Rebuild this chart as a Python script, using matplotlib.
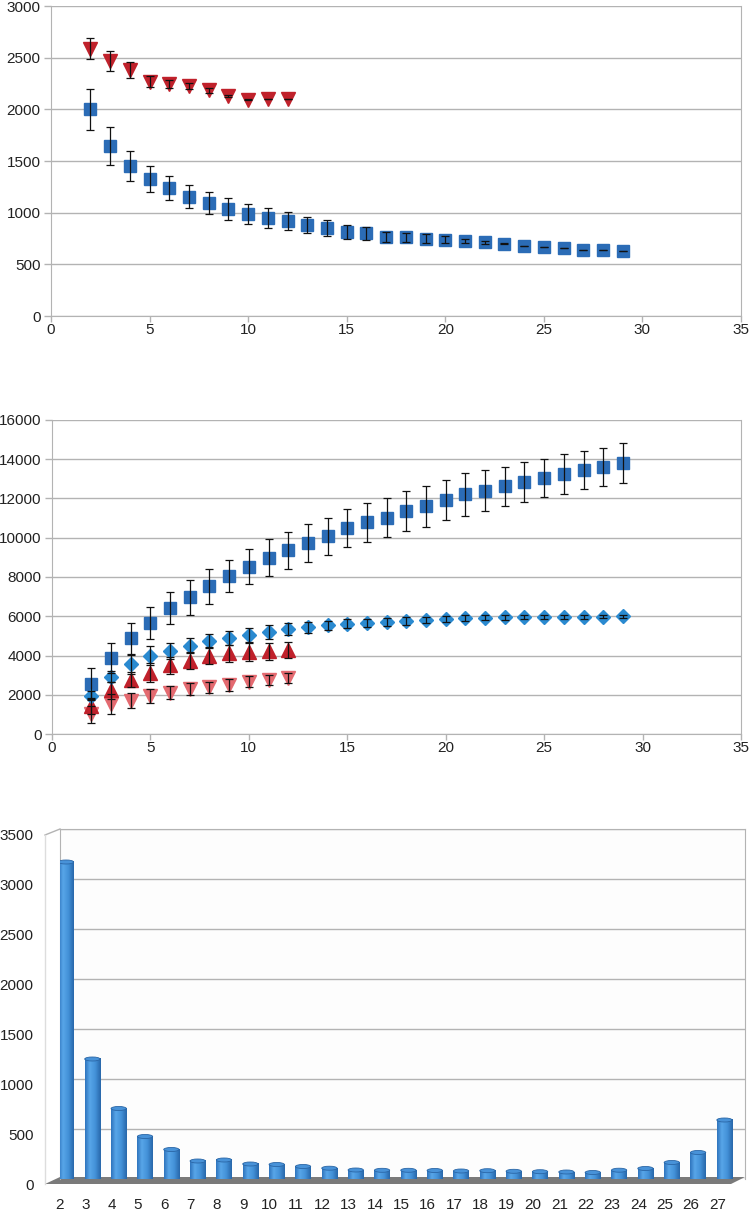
import numpy as np
import matplotlib.pyplot as plt
from matplotlib.patches import Ellipse, Polygon
from matplotlib.colors import LinearSegmentedColormap
from matplotlib.transforms import ScaledTranslation

plt.rcParams['font.family'] = ['Liberation Sans', 'DejaVu Sans']
plt.rcParams['font.size'] = 11
plt.rcParams['text.color'] = '#222222'
plt.rcParams['xtick.color'] = '#b3b3b3'
plt.rcParams['ytick.color'] = '#b3b3b3'
plt.rcParams['xtick.labelcolor'] = '#222222'
plt.rcParams['ytick.labelcolor'] = '#222222'

# ---- top chart data
top_x_sq = list(range(2, 30))
top_sq = [2000, 1645, 1455, 1326, 1235, 1155, 1095, 1035, 988, 950, 918, 880, 852,
          813, 800, 767, 760, 750, 740, 727, 712, 700, 680, 668, 655, 642, 635, 625]
top_sq_err = [200, 180, 145, 125, 117, 113, 107, 103, 100, 100, 85, 80, 75,
              70, 60, 48, 45, 40, 30, 22, 15, 5, 0, 0, 0, 0, 0, 0]
top_x_tri = list(range(2, 13))
top_tri = [2586, 2471, 2377, 2268, 2243, 2226, 2184, 2130, 2095, 2098, 2098]
top_tri_err = [102, 97, 77, 55, 40, 32, 27, 12, 3, 0, 0]

# ---- middle chart data
mid_x_long = list(range(2, 30))
mid_sq = [2560, 3870, 4874, 5656, 6420, 6964, 7524, 8042, 8535, 8985, 9367, 9740, 10072, 10497,
          10785, 11022, 11371, 11601, 11924, 12204, 12399, 12620, 12850, 13062, 13231, 13443, 13613, 13809]
mid_sq_err = [780, 750, 800, 815, 830, 900, 900, 825, 890, 935, 943, 960, 950, 985,
              1000, 1000, 1025, 1035, 1020, 1080, 1035, 1000, 1030, 970, 1020, 980, 975, 1035]
mid_dia = [1960, 2921, 3560, 4000, 4220, 4490, 4740, 4900, 5060, 5190, 5340, 5445, 5537, 5610,
           5660, 5700, 5758, 5800, 5880, 5905, 5930, 5940, 5945, 5955, 5965, 5970, 5975, 5990]
mid_dia_err = [250, 290, 480, 480, 410, 380, 380, 365, 355, 340, 300, 280, 240, 230,
               210, 200, 180, 160, 150, 140, 130, 120, 110, 100, 100, 90, 80, 80]
mid_x_short = list(range(2, 13))
mid_up = [1420, 2220, 2770, 3133, 3500, 3745, 3983, 4110, 4178, 4212, 4263]
mid_up_err = [400, 420, 380, 470, 440, 450, 430, 425, 440, 440, 410]
mid_down = [1000, 1530, 1707, 1940, 2110, 2300, 2390, 2500, 2665, 2750, 2850]
mid_down_err = [450, 500, 400, 340, 330, 315, 280, 290, 290, 255, 240]

# ---- bottom chart data
bar_cats = list(range(2, 28))
bar_vals = [3170, 1200, 705, 425, 295, 180, 190, 150, 145, 125, 108, 90, 87,
            87, 85, 80, 83, 77, 73, 70, 65, 88, 105, 165, 265, 590]

W, H = 750, 1211
fig = plt.figure(figsize=(W / 100, H / 100), dpi=100)
grid_c = '#b3b3b3'
blue = '#2b6cb6'
dred = '#c0212b'
lblue = '#2a8ad0'
lred = '#e46a70'


def style_scatter_axes(ax, ymax, ystep):
    ax.set_xlim(0, 35)
    ax.set_ylim(0, ymax)
    ax.set_xticks(range(0, 36, 5))
    ax.set_yticks(range(0, ymax + 1, ystep))
    ax.yaxis.grid(True, color=grid_c, lw=1)
    ax.set_axisbelow(True)
    for s in ax.spines.values():
        s.set_color(grid_c)
    ax.spines['top'].set_visible(False)
    ax.tick_params(axis='y', length=5, width=1, pad=2.5)
    ax.tick_params(axis='x', length=4, width=1, pad=1)


def series(ax, x, y, err, marker, color, ms):
    ax.plot(x, y, ls='none', marker=marker, color=color, ms=ms, mec=color, zorder=3)
    ax.errorbar(x, y, yerr=err, fmt='none', ecolor='#111111', elinewidth=0.9,
                capsize=3.2, capthick=0.9, zorder=4)


# ---- top
ax1 = fig.add_axes([51 / W, 1 - 316 / H, 690 / W, 310 / H])
style_scatter_axes(ax1, 3000, 500)
series(ax1, top_x_sq, top_sq, top_sq_err, 's', blue, 9.2)
series(ax1, top_x_tri, top_tri, top_tri_err, 'v', dred, 9.5)

# ---- middle
ax2 = fig.add_axes([52 / W, 1 - 734 / H, 689 / W, 314 / H])
style_scatter_axes(ax2, 16000, 2000)
series(ax2, mid_x_long, mid_sq, mid_sq_err, 's', blue, 9.2)
series(ax2, mid_x_short, mid_down, mid_down_err, 'v', lred, 9.5)
series(ax2, mid_x_short, mid_up, mid_up_err, '^', dred, 9.5)
series(ax2, mid_x_long, mid_dia, mid_dia_err, 'D', lblue, 7.2)

# ---- bottom (pseudo 3D cylinders)
ax3 = fig.add_axes([60 / W, 1 - 1179 / H, 685 / W, 350 / H])
ax3.set_facecolor('#fdfdfd')
xl = (1.772, 27.78)
ax3.set_xlim(*xl)
ax3.set_ylim(0, 3500)
ax3.set_yticks(range(0, 3501, 500))
ax3.set_xticks(bar_cats)
ax3.yaxis.grid(True, color=grid_c, lw=1)
ax3.set_axisbelow(True)
for s in ax3.spines.values():
    s.set_color(grid_c)
ax3.spines['bottom'].set_visible(False)
ax3.tick_params(axis='both', length=0)
ax3.tick_params(axis='y', pad=19)
ax3.tick_params(axis='x', pad=13.5)
for lab in ax3.get_xticklabels():
    lab.set_transform(lab.get_transform() + ScaledTranslation(-7 / 100, 0, fig.dpi_scale_trans))
for lab in ax3.get_yticklabels():
    lab.set_transform(lab.get_transform() + ScaledTranslation(0, -5 / 100, fig.dpi_scale_trans))

# floor slab and left wall edges (figure pixel coords)
tf = fig.transFigure
floor = Polygon([(45 / W, 1 - 1184 / H), (60 / W, 1 - 1177 / H), (745 / W, 1 - 1177 / H),
                 (731 / W, 1 - 1184 / H)], closed=True, fc='#7a7a7a', ec='none',
                transform=tf, clip_on=False, zorder=1.5)
ax3.add_patch(floor)
ax3.plot([45 / W, 60 / W], [1 - 835 / H, 1 - 829 / H], color=grid_c, lw=1, transform=tf, clip_on=False)
ax3.plot([45 / W, 45 / W], [1 - 835 / H, 1 - 1184 / H], color='#dddddd', lw=1, transform=tf, clip_on=False)

cyl = LinearSegmentedColormap.from_list('cyl', [(0, '#2f74bd'), (0.3, '#58a6e8'),
                                                (0.65, '#4391d8'), (1, '#2867aa')])
grad = np.linspace(0, 1, 64).reshape(1, -1)
bw = 0.58
eh = 40
for x, v in zip(bar_cats, bar_vals):
    ax3.add_patch(Ellipse((x, 0), bw, eh, fc='#2f72b8', ec='none', zorder=2))
    ax3.imshow(grad, cmap=cyl, extent=(x - bw / 2, x + bw / 2, 0, v), aspect='auto',
               zorder=3, interpolation='bilinear')
    ax3.add_patch(Ellipse((x, v), bw, eh, fc='#4892d8', ec='#2a66a6', lw=0.6, zorder=4))
ax3.set_xlim(*xl)
ax3.set_ylim(0, 3500)

fig.savefig('out.png', dpi=100)
